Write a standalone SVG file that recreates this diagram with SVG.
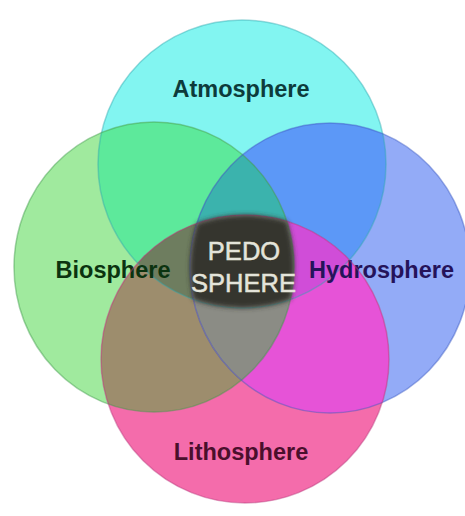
<svg xmlns="http://www.w3.org/2000/svg" width="465" height="516" viewBox="0 0 465 516">
  <style>
    .lbl { font-family: "Liberation Sans", Arial, sans-serif; font-weight: bold; font-size: 23.5px; text-anchor: middle; }
    .pedo { font-family: "Liberation Sans", Arial, sans-serif; font-size: 25.5px; text-anchor: middle; fill: #e4e4da; stroke: #e4e4da; stroke-width: 0.5; }
    .outline { fill: none; stroke-width: 1.5; stroke-opacity: 0.45; }
  </style>
  <defs>
    <clipPath id="clipA"><circle cx="242" cy="164" r="144"/></clipPath>
    <clipPath id="clipB"><ellipse cx="154" cy="267" rx="140" ry="145"/></clipPath>
    <clipPath id="clipH"><ellipse cx="330" cy="268" rx="140" ry="145"/></clipPath>
    <clipPath id="clipL"><circle cx="245" cy="359" r="144"/></clipPath>
    <filter id="soft" x="-20%" y="-20%" width="140%" height="140%">
      <feGaussianBlur stdDeviation="2.5"/>
    </filter>
  </defs>

  <rect x="0" y="0" width="465" height="516" fill="#ffffff"/>

  <g id="fills">
    <!-- single spheres -->
    <circle cx="242" cy="164" r="144" fill="#82f5f1"/>
    <ellipse cx="154" cy="267" rx="140" ry="145" fill="#a0ea9e"/>
    <ellipse cx="330" cy="268" rx="140" ry="145" fill="#93abf7"/>
    <circle cx="245" cy="359" r="144" fill="#f46cab"/>
    <!-- pairs -->
    <g clip-path="url(#clipA)"><ellipse cx="154" cy="267" rx="140" ry="145" fill="#5de99b"/></g>
    <g clip-path="url(#clipA)"><ellipse cx="330" cy="268" rx="140" ry="145" fill="#5c98f7"/></g>
    <g clip-path="url(#clipA)"><circle cx="245" cy="359" r="144" fill="#9a9ab0"/></g>
    <g clip-path="url(#clipB)"><ellipse cx="330" cy="268" rx="140" ry="145" fill="#8e9a98"/></g>
    <g clip-path="url(#clipB)"><circle cx="245" cy="359" r="144" fill="#9d8d6d"/></g>
    <g clip-path="url(#clipH)"><circle cx="245" cy="359" r="144" fill="#e653d7"/></g>
    <!-- triples -->
    <g clip-path="url(#clipA)"><g clip-path="url(#clipB)"><ellipse cx="330" cy="268" rx="140" ry="145" fill="#3bb3ad"/></g></g>
    <g clip-path="url(#clipA)"><g clip-path="url(#clipB)"><circle cx="245" cy="359" r="144" fill="#6e7d5f"/></g></g>
    <g clip-path="url(#clipA)"><g clip-path="url(#clipH)"><circle cx="245" cy="359" r="144" fill="#d04dd8"/></g></g>
    <g clip-path="url(#clipB)"><g clip-path="url(#clipH)"><circle cx="245" cy="359" r="144" fill="#8b8c85"/></g></g>
  </g>

  <g id="atmosphere">
    <circle class="outline" cx="242" cy="164" r="144" stroke="#2fa8b0"/>
    <text class="lbl" x="241" y="96.5" fill="#0d3b3b">Atmosphere</text>
  </g>
  <g id="biosphere">
    <ellipse class="outline" cx="154" cy="267" rx="140" ry="145" stroke="#3e9a4a"/>
    <text class="lbl" x="113" y="278" fill="#0b3310">Biosphere</text>
  </g>
  <g id="hydrosphere">
    <ellipse class="outline" cx="330" cy="268" rx="140" ry="145" stroke="#3a58c0"/>
    <text class="lbl" x="381.5" y="278" fill="#25135a">Hydrosphere</text>
  </g>
  <g id="lithosphere">
    <circle class="outline" cx="245" cy="359" r="144" stroke="#b83a7c"/>
    <text class="lbl" x="241" y="460" fill="#4a0f2c">Lithosphere</text>
  </g>

  <g id="pedosphere">
    <g filter="url(#soft)">
      <g clip-path="url(#clipA)"><g clip-path="url(#clipB)"><g clip-path="url(#clipH)">
        <circle cx="245" cy="359" r="144" fill="#34342f"/>
      </g></g></g>
    </g>
    <text class="pedo" x="244" y="260">PEDO</text>
    <text class="pedo" x="243.5" y="292">SPHERE</text>
  </g>
</svg>
